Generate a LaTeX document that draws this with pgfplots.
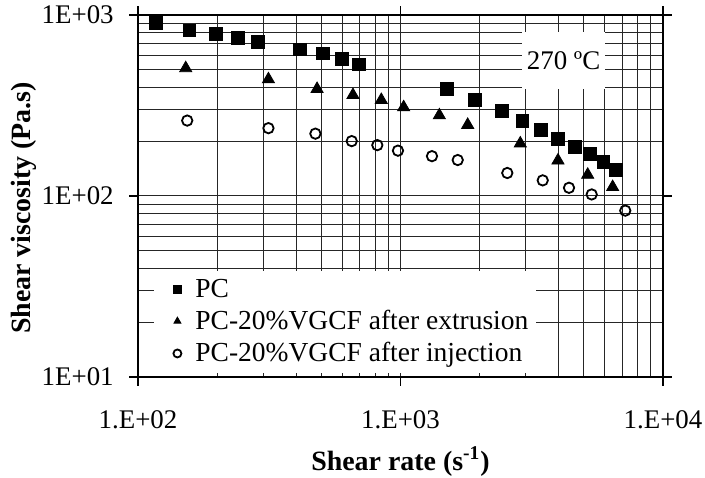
\documentclass[border=0pt]{standalone}
\usepackage{pgfplots}
\pgfplotsset{compat=1.18}
\usepackage{fontspec}
\setmainfont{Liberation Serif}

\begin{document}
\begin{tikzpicture}
  \useasboundingbox (-69bp,-50.5bp) rectangle (283.5bp,188.5bp);
  \begin{axis}[
      at={(0,0)}, anchor=south west,
      scale only axis,
      width=262.5bp, height=181bp,
      xmode=log, ymode=log,
      xmin=100, xmax=10000,
      ymin=10, ymax=1000,
      xtick={100,1000,10000},
      xticklabels={1.E+02,1.E+03,1.E+04},
      ytick={10,100,1000},
      yticklabels={1E+01,1E+02,1E+03},
      minor xtick={200,300,400,500,600,700,800,900,2000,3000,4000,5000,6000,7000,8000,9000},
      minor ytick={20,30,40,50,60,70,80,90,200,300,400,500,600,700,800,900},
      grid=both,
      grid style={black!85, line width=0.5bp},
      minor grid style={black!85, line width=0.5bp},
      axis line style={black, line width=0.6bp},
      tick align=outside,
      major tick length=4.5bp,
      minor tick length=0pt,
      tick style={black, line width=0.6bp},
      tick label style={font=\fontsize{13.5}{16}\selectfont},
      xticklabel style={inner sep=0pt, anchor=base, yshift=-21.3bp},
      yticklabel style={inner sep=0pt, anchor=east, xshift=-7.5bp},
      xlabel={Shear rate (s\textsuperscript{-1})},
      ylabel={Shear viscosity (Pa.s)},
      label style={font=\fontsize{14}{16}\selectfont\bfseries},
      xlabel style={at={(axis description cs:0.5,-0.2569)}, anchor=base},
      ylabel style={at={(axis description cs:-0.2171,0.467)}, anchor=center},
      legend style={
        at={(rel axis cs:0.0305,0.011)}, anchor=south west,
        fill=white, draw=none,
        font=\fontsize{13.8}{15.75}\selectfont,
        inner xsep=2bp, inner ysep=2bp, row sep=1bp,
      },
      legend cell align=left,
      legend image code/.code={%
        \path[draw=none, fill=none] (0bp,0bp) -- (16.5bp,0bp);
        \draw[#1, mark size=2bp] plot coordinates {(9.5bp,0bp)};},
    ]
    \addplot[only marks, mark=square*, mark size=3.2bp, black] coordinates {
      (117,907) (157,823) (198,785) (241,746) (286,709) (414,646)
      (505,614) (597,574) (695,534) (1504,392) (1927,339) (2430,294)
      (2911,261) (3430,231) (3981,206) (4623,186) (5272,170) (5925,154)
      (6637,140)
    };
    \addlegendentry{PC}
    \addplot[only marks, mark=triangle*, mark size=3.5bp, black] coordinates {
      (152,508) (314,441) (481,390) (659,361) (845,339) (1028,309)
      (1406,279) (1803,247) (2860,195) (3981,157) (5166,131) (6430,112)
    };
    \addlegendentry{PC-20\%VGCF after extrusion}
    \addplot[only marks, mark=o, mark size=2.6bp, black, line width=0.9bp] coordinates {
      (154,261) (314,237) (474,221) (652,201) (816,191) (978,178)
      (1318,166) (1652,158) (2552,134) (3482,122) (4385,111) (5350,102)
      (7183,83)
    };
    \addlegendentry{PC-20\%VGCF after injection}
    \node[fill=white, inner sep=0pt, minimum width=41.5bp, minimum height=28.5bp,
          font=\fontsize{13.5}{16}\selectfont] at (axis cs:4180,561) {270 ºC};
  \end{axis}
\end{tikzpicture}
\end{document}
